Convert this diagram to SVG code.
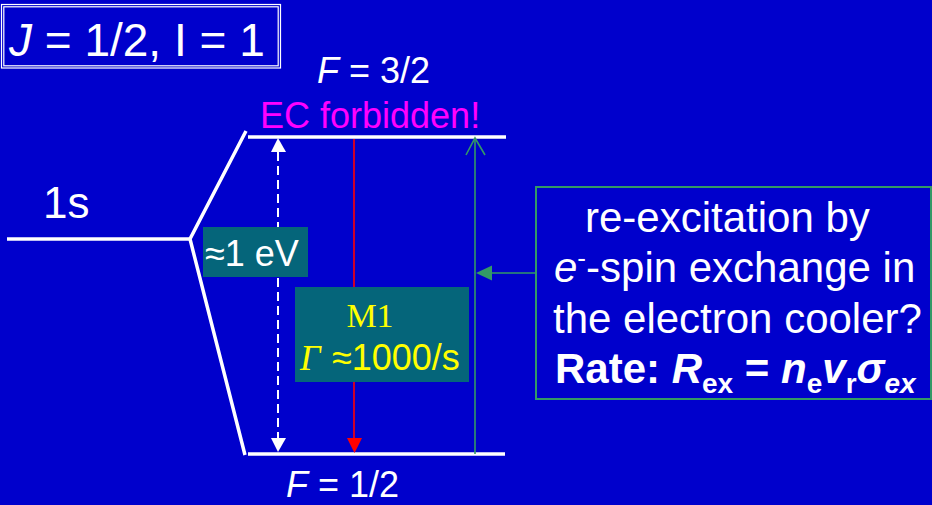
<svg xmlns="http://www.w3.org/2000/svg" width="932" height="505" viewBox="0 0 932 505">
<style>
.t{font-family:"Liberation Sans",Arial,sans-serif;fill:#fff}
.s{font-family:"Liberation Serif","Times New Roman",serif}
.lvl{stroke:#fff;stroke-width:3.5;fill:none;stroke-linecap:butt}
.tb{fill:#05657A}
.gr{stroke:#339966;stroke-width:1.6;fill:none}
</style>
<rect width="932" height="505" fill="#0000CC"/>
<g id="title">
<rect x="1.5" y="4.5" width="279" height="63.5" fill="none" stroke="#fff" stroke-width="1.2"/>
<rect x="3.8" y="6.8" width="274.4" height="59" fill="none" stroke="#fff" stroke-width="1.2"/>
<text class="t" x="9" y="56" font-size="46"><tspan font-style="italic">J</tspan> = 1/2, I = 1</text>
</g>
<g id="level-1s">
<line class="lvl" x1="7" y1="239" x2="190" y2="239"/>
<text class="t" x="43" y="218" font-size="44">1s</text>
</g>
<g id="level-F32">
<line class="lvl" x1="248" y1="137" x2="506" y2="137"/>
<text class="t" x="317" y="83" font-size="36"><tspan font-style="italic">F</tspan> = 3/2</text>
<text class="t" x="260" y="128" font-size="36" style="fill:#FF00FF">EC forbidden!</text>
</g>
<g id="level-F12">
<line class="lvl" x1="248" y1="454" x2="505" y2="454"/>
<text class="t" x="286" y="497" font-size="36"><tspan font-style="italic">F</tspan> = 1/2</text>
</g>
<g id="connectors">
<polyline class="lvl" points="246,131 190,239 245,455"/>
<line x1="278" y1="152" x2="278" y2="438" stroke="#fff" stroke-width="2" stroke-dasharray="9 5"/>
<polygon points="278,138 271,152 286,152" fill="#fff"/>
<polygon points="278,452 271,438 286,438" fill="#fff"/>
<line x1="354" y1="139" x2="354" y2="440" stroke="#FF0000" stroke-width="1.6"/>
<polygon points="354.5,453 347,438 362,438" fill="#FF0000"/>
<line class="gr" x1="475" y1="138" x2="475" y2="454"/>
<polyline class="gr" points="466,155 475,138 485,155"/>
<line class="gr" x1="536" y1="273" x2="490" y2="273"/>
<polygon points="476,273 492,265.5 492,280.5" fill="#339966"/>
</g>
<g id="gap-label">
<rect class="tb" x="203" y="227" width="105" height="50"/>
<text class="t" x="205" y="266" font-size="36">≈1 eV</text>
</g>
<g id="m1-label">
<rect class="tb" x="295" y="287" width="174" height="95"/>
<text class="s" x="370" y="327" font-size="34" fill="#FFFF00" text-anchor="middle">M1</text>
<text x="300" y="370" font-size="36" fill="#FFFF00"><tspan class="s" font-style="italic">Γ</tspan><tspan class="t" x="332" style="fill:#FFFF00">≈1000/s</tspan></text>
</g>
<g id="reexcitation">
<rect x="536" y="187" width="395" height="212" fill="none" stroke="#339966" stroke-width="2"/>
<text class="t" x="585" y="232" font-size="42">re-excitation by</text>
<text class="t" x="554" y="282" font-size="42"><tspan font-style="italic">e</tspan><tspan font-size="26" dy="-15">-</tspan><tspan dy="15">-spin exchange in</tspan></text>
<text class="t" x="553" y="333" font-size="42">the electron cooler?</text>
<text class="t" x="555" y="383" font-size="42" font-weight="bold">Rate: <tspan font-style="italic">R</tspan><tspan font-size="28" dy="10">ex</tspan><tspan dy="-10"> = </tspan><tspan font-style="italic">n</tspan><tspan font-size="28" dy="10">e</tspan><tspan font-style="italic" dy="-10">v</tspan><tspan font-size="28" dy="10">r</tspan><tspan font-style="italic" dy="-10">σ</tspan><tspan font-size="28" font-style="italic" dy="10">ex</tspan></text>
</g>
</svg>
